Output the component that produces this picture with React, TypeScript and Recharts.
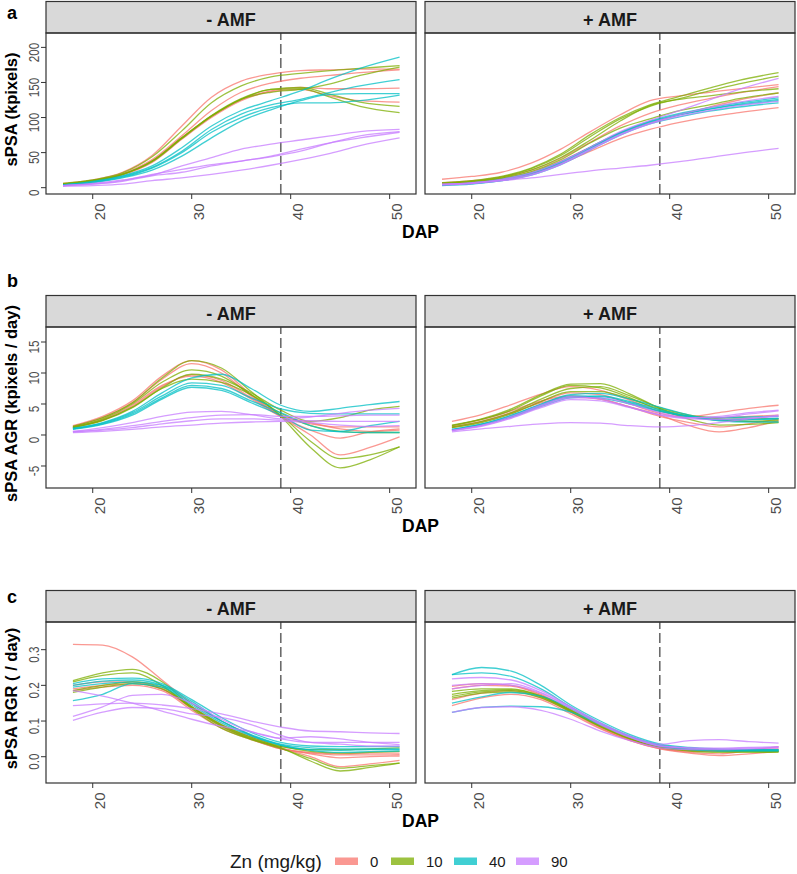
import React from 'react';
import { LineChart, Line, XAxis, YAxis, ReferenceLine } from 'recharts';

// ---------- shared axes / categories ----------
const dapA = [17, 20, 23, 26, 29, 32, 35, 38, 41, 44, 47, 51];
const dapBC = [18, 21, 24, 27, 30, 33, 36, 39, 42, 45, 48, 51];
const xTicks = [20, 30, 40, 50];
const harvestDap = 39;
const znLevels = ['0', '10', '40', '90'];
const znColors = ['#F8766D', '#7CAE00', '#00BFC4', '#C77CFF'];
const facetLabels = ['- AMF', '+ AMF'];

const yTicksA = [0, 50, 100, 150, 200];
const yTicksB = [-5, 0, 5, 10, 15];
const yTicksC = [0, 0.1, 0.2, 0.3];

// ---------- panel a: sPSA (kpixels), - AMF ----------
const aMinusZn0 = [
  [6, 11, 22, 46, 88, 129, 152, 162, 167, 168, 169, 169],
  [5, 10, 20, 40, 74, 110, 136, 149, 156, 160, 164, 168],
  [5, 10, 19, 38, 71, 102, 126, 138, 143, 141, 141, 142],
  [5, 9, 18, 36, 69, 100, 124, 137, 140, 131, 124, 122],
];
const aMinusZn10 = [
  [6, 11, 21, 44, 81, 121, 145, 158, 163, 167, 170, 174],
  [5, 10, 19, 38, 71, 102, 126, 136, 140, 148, 160, 172],
  [5, 10, 19, 38, 71, 103, 127, 140, 143, 133, 122, 116],
  [5, 10, 19, 37, 70, 102, 126, 140, 141, 129, 116, 107],
];
const aMinusZn40 = [
  [4, 9, 17, 31, 57, 88, 110, 124, 138, 155, 170, 186],
  [4, 8, 16, 29, 52, 83, 105, 118, 126, 136, 145, 154],
  [4, 8, 15, 28, 50, 79, 100, 114, 121, 121, 124, 132],
  [3, 7, 14, 25, 45, 71, 95, 111, 124, 133, 134, 134],
];
const aMinusZn90 = [
  [3, 6, 11, 18, 31, 43, 55, 62, 68, 74, 80, 83],
  [3, 5, 9, 17, 22, 31, 38, 44, 52, 64, 74, 80],
  [3, 5, 10, 19, 26, 33, 38, 45, 55, 64, 71, 79],
  [2, 3, 5, 10, 14, 19, 25, 32, 40, 49, 60, 71],
];

// ---------- panel a: sPSA (kpixels), + AMF ----------
const aPlusZn0 = [
  [12, 16, 22, 35, 55, 80, 104, 124, 131, 136, 141, 147],
  [7, 10, 15, 25, 42, 65, 88, 106, 118, 127, 135, 144],
  [6, 8, 12, 20, 34, 52, 70, 83, 93, 101, 107, 114],
  [5, 8, 13, 22, 38, 58, 78, 92, 104, 115, 125, 135],
];
const aPlusZn10 = [
  [7, 10, 16, 28, 48, 76, 100, 118, 130, 142, 153, 164],
  [6, 9, 15, 27, 46, 73, 98, 116, 127, 138, 148, 159],
  [6, 9, 14, 25, 43, 68, 95, 117, 126, 131, 136, 141],
  [5, 8, 13, 23, 40, 64, 85, 98, 110, 118, 127, 135],
];
const aPlusZn40 = [
  [4, 6, 11, 20, 36, 58, 79, 95, 106, 114, 121, 128],
  [4, 6, 10, 19, 35, 56, 77, 93, 104, 112, 119, 126],
  [3, 5, 10, 18, 33, 54, 75, 91, 101, 109, 115, 121],
  [4, 7, 12, 21, 37, 57, 78, 94, 104, 112, 118, 124],
];
const aPlusZn90 = [
  [5, 7, 12, 21, 37, 58, 80, 96, 110, 125, 140, 156],
  [4, 6, 10, 18, 33, 54, 75, 91, 102, 110, 117, 123],
  [4, 6, 10, 14, 19, 24, 28, 32, 37, 43, 49, 56],
  [5, 7, 11, 19, 34, 55, 76, 92, 104, 114, 122, 130],
];

// ---------- panel b: sPSA AGR (kpixels / day), - AMF ----------
const bMinusZn0 = [
  [1.5, 3.0, 5.5, 9.5, 12.0, 10.5, 6.5, 3.0, 0.0, -3.2, -2.0, -0.3],
  [1.4, 2.8, 5.2, 9.0, 11.5, 10.0, 6.3, 3.0, 0.8, -0.5, 0.5, 1.0],
  [1.3, 2.5, 4.8, 8.0, 9.5, 8.5, 5.8, 3.0, 1.8, 1.3, 1.3, 1.3],
  [1.2, 2.4, 4.6, 7.8, 9.7, 8.8, 6.0, 3.2, 2.0, 1.0, 0.6, 0.8],
];
const bMinusZn10 = [
  [1.4, 2.8, 5.2, 9.2, 12.0, 10.8, 7.0, 3.0, -2.0, -5.3, -4.0, -1.9],
  [1.3, 2.6, 5.0, 8.5, 10.5, 9.5, 6.5, 3.2, -1.0, -3.8, -3.2, -1.9],
  [1.2, 2.4, 4.5, 7.5, 9.0, 8.5, 6.5, 3.5, 1.5, 0.6, 0.4, 0.4],
  [1.2, 2.3, 4.4, 7.6, 9.8, 9.0, 6.8, 4.0, 2.2, 2.8, 4.0, 4.6],
];
const bMinusZn40 = [
  [1.1, 2.0, 3.8, 6.8, 9.2, 9.8, 7.5, 4.8, 3.8, 4.3, 4.9, 5.4],
  [1.0, 1.9, 3.6, 6.3, 8.4, 8.0, 6.0, 4.2, 3.5, 3.4, 3.4, 3.4],
  [1.0, 1.8, 3.4, 6.0, 8.0, 7.5, 5.5, 3.6, 1.5, 0.5, 0.4, 0.4],
  [0.9, 1.7, 3.2, 5.8, 7.7, 7.2, 5.2, 3.2, 0.8, 0.6, 1.5, 2.2],
];
const bMinusZn90 = [
  [0.6, 1.2, 2.0, 3.0, 3.7, 3.8, 3.3, 2.6, 2.9, 3.5, 4.0, 4.3],
  [0.5, 0.9, 1.5, 2.2, 2.8, 3.2, 3.3, 3.0, 3.0, 3.1, 3.2, 3.2],
  [0.5, 0.8, 1.2, 1.8, 2.3, 2.6, 2.6, 2.4, 2.3, 2.2, 2.2, 2.2],
  [0.4, 0.6, 0.9, 1.3, 1.6, 1.9, 2.1, 2.2, 2.0, 1.6, 1.4, 1.5],
];

// ---------- panel b: sPSA AGR (kpixels / day), + AMF ----------
const bPlusZn0 = [
  [2.2, 3.3, 4.9, 6.6, 7.8, 7.2, 5.6, 3.8, 3.0, 3.6, 4.3, 4.8],
  [1.5, 2.5, 3.9, 5.5, 6.3, 5.8, 4.5, 3.2, 1.5, 0.5, 1.2, 2.3],
  [1.3, 2.2, 3.6, 5.2, 6.1, 5.8, 4.5, 3.0, 2.0, 1.3, 1.8, 2.6],
  [1.2, 2.1, 3.5, 5.4, 6.8, 6.5, 5.0, 3.5, 2.8, 2.8, 3.0, 3.2],
];
const bPlusZn10 = [
  [1.6, 2.6, 4.2, 6.5, 8.2, 8.3, 6.6, 4.3, 2.5, 1.6, 1.7, 2.0],
  [1.5, 2.5, 4.0, 6.3, 8.0, 7.6, 6.0, 4.0, 3.0, 2.8, 2.7, 2.6],
  [1.3, 2.2, 3.6, 5.8, 7.5, 7.8, 6.3, 4.4, 3.2, 2.6, 2.2, 2.1],
  [1.2, 2.0, 3.4, 5.4, 7.0, 7.0, 5.8, 4.2, 3.0, 2.4, 2.2, 2.4],
];
const bPlusZn40 = [
  [0.9, 1.8, 3.2, 5.0, 6.5, 6.7, 5.8, 4.5, 3.2, 2.3, 2.1, 2.1],
  [0.8, 1.7, 3.0, 4.8, 6.2, 6.3, 5.4, 4.1, 3.0, 2.5, 2.5, 2.6],
  [0.8, 1.6, 2.9, 4.6, 6.0, 6.2, 5.2, 3.9, 2.9, 2.4, 2.5, 2.7],
  [0.9, 1.7, 3.1, 4.9, 6.3, 6.0, 5.0, 3.8, 3.0, 2.8, 2.9, 3.0],
];
const bPlusZn90 = [
  [0.5, 1.0, 1.4, 1.8, 2.0, 1.9, 1.5, 1.3, 1.5, 2.0, 2.6, 3.2],
  [0.7, 1.5, 2.8, 4.6, 6.0, 6.0, 5.0, 3.6, 2.8, 2.8, 3.4, 3.9],
  [0.8, 1.6, 3.0, 4.8, 6.2, 5.8, 4.5, 3.3, 2.8, 3.0, 3.6, 4.0],
  [0.7, 1.4, 2.7, 4.4, 5.7, 5.5, 4.4, 3.2, 2.6, 2.5, 2.7, 3.0],
];

// ---------- panel c: sPSA RGR ( / day), - AMF ----------
const cMinusZn0 = [
  [0.315, 0.313, 0.28, 0.215, 0.15, 0.1, 0.06, 0.025, 0.0, -0.028, -0.02, -0.01],
  [0.19, 0.2, 0.205, 0.19, 0.14, 0.09, 0.055, 0.025, 0.008, -0.003, 0.0, 0.002],
  [0.2, 0.21, 0.21, 0.19, 0.135, 0.085, 0.05, 0.022, 0.01, 0.005, 0.005, 0.006],
  [0.185, 0.195, 0.2, 0.185, 0.13, 0.08, 0.048, 0.022, 0.012, 0.008, 0.01, 0.01],
];
const cMinusZn10 = [
  [0.213, 0.235, 0.245, 0.21, 0.14, 0.085, 0.05, 0.025, -0.012, -0.04, -0.03, -0.018],
  [0.21, 0.228, 0.235, 0.2, 0.135, 0.08, 0.048, 0.023, -0.005, -0.032, -0.025, -0.018],
  [0.185, 0.2, 0.21, 0.195, 0.14, 0.09, 0.055, 0.03, 0.015, 0.01, 0.012, 0.015],
  [0.18, 0.195, 0.205, 0.19, 0.138, 0.088, 0.052, 0.028, 0.02, 0.02, 0.022, 0.025],
];
const cMinusZn40 = [
  [0.205, 0.218, 0.22, 0.205, 0.16, 0.11, 0.068, 0.04, 0.03, 0.028, 0.028, 0.028],
  [0.2, 0.212, 0.215, 0.2, 0.15, 0.1, 0.062, 0.035, 0.025, 0.022, 0.022, 0.022],
  [0.157, 0.175, 0.205, 0.195, 0.145, 0.095, 0.058, 0.032, 0.02, 0.018, 0.02, 0.02],
  [0.195, 0.205, 0.21, 0.2, 0.155, 0.1, 0.06, 0.033, 0.018, 0.012, 0.014, 0.016],
];
const cMinusZn90 = [
  [0.143, 0.148, 0.15, 0.145, 0.135, 0.12, 0.1, 0.083, 0.072, 0.07, 0.067, 0.065],
  [0.113, 0.14, 0.172, 0.175, 0.15, 0.105, 0.07, 0.052, 0.056, 0.05, 0.04, 0.034],
  [0.102, 0.125, 0.138, 0.135, 0.12, 0.11, 0.09, 0.06, 0.04, 0.035, 0.03, 0.03],
  [0.185, 0.17, 0.15, 0.128, 0.105, 0.085, 0.07, 0.05, 0.04, 0.04, 0.04, 0.04],
];

// ---------- panel c: sPSA RGR ( / day), + AMF ----------
const cPlusZn0 = [
  [0.197, 0.205, 0.2, 0.175, 0.13, 0.085, 0.05, 0.025, 0.012, 0.008, 0.018, 0.028],
  [0.143, 0.165, 0.175, 0.16, 0.12, 0.078, 0.045, 0.022, 0.01, 0.003, 0.008, 0.015],
  [0.19, 0.2, 0.198, 0.172, 0.128, 0.083, 0.048, 0.025, 0.018, 0.018, 0.02, 0.022],
  [0.16, 0.178, 0.185, 0.165, 0.125, 0.08, 0.046, 0.023, 0.015, 0.015, 0.018, 0.02],
];
const cPlusZn10 = [
  [0.183, 0.19, 0.19, 0.17, 0.13, 0.088, 0.052, 0.028, 0.018, 0.016, 0.015, 0.014],
  [0.169, 0.182, 0.185, 0.168, 0.128, 0.085, 0.05, 0.027, 0.02, 0.017, 0.015, 0.014],
  [0.164, 0.178, 0.182, 0.165, 0.126, 0.084, 0.05, 0.026, 0.016, 0.012, 0.012, 0.013],
  [0.175, 0.185, 0.188, 0.17, 0.132, 0.09, 0.055, 0.03, 0.02, 0.018, 0.017, 0.017],
];
const cPlusZn40 = [
  [0.23, 0.25, 0.24, 0.2, 0.145, 0.1, 0.062, 0.036, 0.026, 0.022, 0.02, 0.02],
  [0.23, 0.235, 0.225, 0.19, 0.14, 0.095, 0.058, 0.033, 0.024, 0.02, 0.019, 0.019],
  [0.15, 0.168, 0.18, 0.17, 0.135, 0.092, 0.056, 0.032, 0.022, 0.019, 0.018, 0.018],
  [0.124, 0.138, 0.142, 0.14, 0.125, 0.09, 0.055, 0.03, 0.02, 0.016, 0.016, 0.016],
];
const cPlusZn90 = [
  [0.218, 0.222, 0.215, 0.185, 0.14, 0.095, 0.058, 0.035, 0.045, 0.048, 0.042, 0.038],
  [0.19, 0.2, 0.205, 0.18, 0.138, 0.092, 0.055, 0.03, 0.025, 0.024, 0.026, 0.028],
  [0.124, 0.138, 0.14, 0.13, 0.105, 0.072, 0.045, 0.025, 0.02, 0.02, 0.022, 0.025],
  [0.2, 0.205, 0.2, 0.178, 0.135, 0.09, 0.054, 0.03, 0.024, 0.022, 0.024, 0.026],
];

// ---------- layout ----------
const FONT = '"Liberation Sans", Arial, Helvetica, sans-serif';
const PLOT_W = 370;
const PLOT_H = 161;
const PANEL_LEFT = [46, 425];
const Y_AXIS_W = 46;
const X_AXIS_H = 40;
const X_DOMAIN: [number, number] = [15.28, 52.66];

const rowsDef = [
  {
    letter: 'a', top: 33, letterY: 19, title: 'sPSA (kpixels)', dap: dapA,
    domain: [-9.0, 220.5] as [number, number], ticks: yTicksA, fmt: (v: number) => String(v),
    groups: [[aMinusZn0, aMinusZn10, aMinusZn40, aMinusZn90], [aPlusZn0, aPlusZn10, aPlusZn40, aPlusZn90]],
  },
  {
    letter: 'b', top: 327, letterY: 287, title: 'sPSA AGR (kpixels / day)', dap: dapBC,
    domain: [-8.55, 17.42] as [number, number], ticks: yTicksB, fmt: (v: number) => String(v),
    groups: [[bMinusZn0, bMinusZn10, bMinusZn40, bMinusZn90], [bPlusZn0, bPlusZn10, bPlusZn40, bPlusZn90]],
  },
  {
    letter: 'c', top: 622, letterY: 603, title: 'sPSA RGR ( / day)', dap: dapBC,
    domain: [-0.0737, 0.3776] as [number, number], ticks: yTicksC, fmt: (v: number) => v.toFixed(1),
    groups: [[cMinusZn0, cMinusZn10, cMinusZn40, cMinusZn90], [cPlusZn0, cPlusZn10, cPlusZn40, cPlusZn90]],
  },
];

function buildRows(dap: number[], groups: number[][][]) {
  return dap.map((d, i) => {
    const row: Record<string, number> = { dap: d };
    groups.forEach((reps, g) => reps.forEach((vals, r) => { row[`z${g}_${r}`] = vals[i]; }));
    return row;
  });
}

const XTick = (props: any) => {
  const { x, payload } = props;
  return (
    <text
      transform={`translate(${x + 12}, ${PLOT_H + 9.5}) rotate(-90)`}
      textAnchor="end" fontSize={15} fill="#4D4D4D" fontFamily={FONT}
    >{payload.value}</text>
  );
};

const makeYTick = (fmt: (v: number) => string) => (props: any) => {
  const { y, payload } = props;
  return (
    <text
      transform={`translate(38.5, ${y + 5}) rotate(-90) scale(0.78, 1)`}
      textAnchor="middle" fontSize={15} fill="#4D4D4D" fontFamily={FONT}
    >{fmt(payload.value)}</text>
  );
};

function Panel({ row, side }: { row: typeof rowsDef[number]; side: number }) {
  const data = buildRows(row.dap, row.groups[side]);
  const showY = side === 0;
  const left = showY ? PANEL_LEFT[0] - Y_AXIS_W : PANEL_LEFT[1];
  const width = showY ? PLOT_W + Y_AXIS_W : PLOT_W;
  return (
    <div style={{ position: 'absolute', left, top: row.top, width, height: PLOT_H + X_AXIS_H }}>
      <LineChart width={width} height={PLOT_H + X_AXIS_H} data={data} margin={{ top: 0, right: 0, bottom: 0, left: 0 }}>
        <XAxis
          dataKey="dap" type="number" domain={X_DOMAIN} allowDataOverflow ticks={xTicks}
          height={X_AXIS_H} axisLine={false} tickLine={{ stroke: '#333333' }} tickSize={5}
          tick={<XTick />} interval={0}
        />
        <YAxis
          type="number" domain={row.domain} allowDataOverflow ticks={row.ticks} hide={!showY}
          width={Y_AXIS_W} axisLine={false} tickLine={{ stroke: '#333333' }} tickSize={5}
          tick={makeYTick(row.fmt)} interval={0}
        />
        <ReferenceLine x={harvestDap} stroke="#6b6b6b" strokeWidth={1.6} strokeDasharray="10 4" />
        {row.groups[side].map((reps, g) =>
          reps.map((_, r) => (
            <Line
              key={`z${g}_${r}`} dataKey={`z${g}_${r}`} type="monotone"
              stroke={znColors[g]} strokeOpacity={0.75} strokeWidth={1.3}
              dot={false} activeDot={false} isAnimationActive={false}
            />
          ))
        )}
      </LineChart>
    </div>
  );
}

export default function App() {
  const stripH = 31.5;
  return (
    <div style={{ position: 'absolute', left: 0, top: 0, width: 797, height: 874, background: '#ffffff', overflow: 'hidden', fontFamily: FONT }}>
      {rowsDef.map((row) => [0, 1].map((side) => <Panel key={row.letter + side} row={row} side={side} />))}
      <svg width={797} height={874} style={{ position: 'absolute', left: 0, top: 0, pointerEvents: 'none' }}>
        {rowsDef.map((row) => (
          <g key={row.letter}>
            <text x={7} y={row.letterY} fontSize={18} fontWeight="bold" fontFamily={FONT} fill="#000">{row.letter}</text>
            <text
              transform={`translate(17, ${row.top + PLOT_H / 2 - 4}) rotate(-90)`}
              textAnchor="middle" fontSize={16.5} fontWeight="bold" fontFamily={FONT} fill="#000"
            >{row.title}</text>
            <text x={420.5} y={row.top + PLOT_H + 44} textAnchor="middle" fontSize={17.5} fontWeight="bold" fontFamily={FONT} fill="#000">DAP</text>
            {PANEL_LEFT.map((pl, i) => (
              <g key={i}>
                <rect x={pl} y={row.top - stripH} width={PLOT_W} height={stripH} fill="#D9D9D9" stroke="#333333" strokeWidth={1.2} />
                <text x={pl + PLOT_W / 2} y={row.top - 7.5} textAnchor="middle" fontSize={18} fontWeight="bold" fontFamily={FONT} fill="#1a1a1a">{facetLabels[i]}</text>
                <rect x={pl} y={row.top} width={PLOT_W} height={PLOT_H} fill="none" stroke="#333333" strokeWidth={1.2} />
              </g>
            ))}
          </g>
        ))}
        <g>
          <text x={230} y={868} fontSize={19} fontFamily={FONT} fill="#1a1a1a">Zn (mg/kg)</text>
          {znLevels.map((lv, i) => {
            const kx = [335, 391, 454, 516][i];
            return (
              <g key={lv}>
                <rect x={kx} y={857.5} width={23} height={7.5} fill={znColors[i]} fillOpacity={0.75} />
                <text x={kx + 35} y={866.5} fontSize={15} fontFamily={FONT} fill="#1a1a1a">{lv}</text>
              </g>
            );
          })}
        </g>
      </svg>
    </div>
  );
}
